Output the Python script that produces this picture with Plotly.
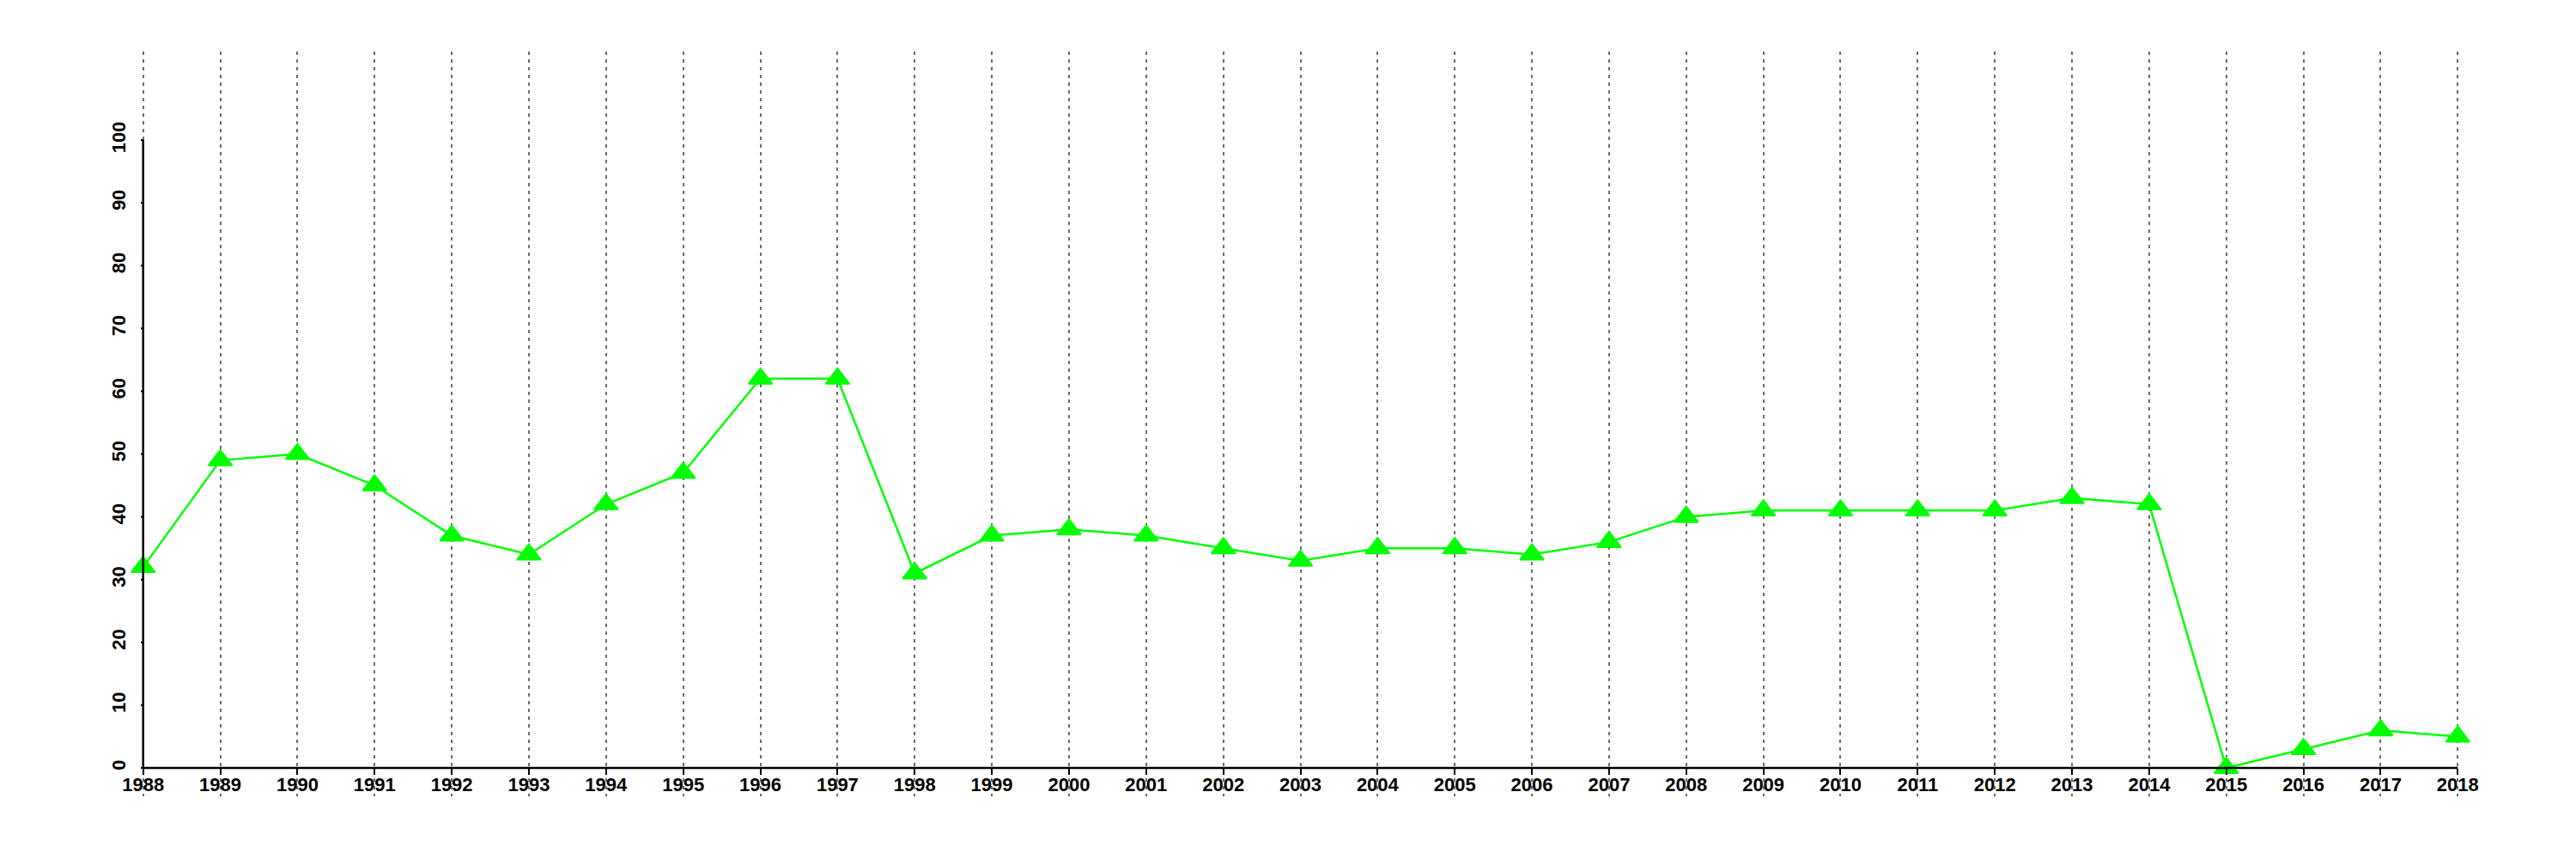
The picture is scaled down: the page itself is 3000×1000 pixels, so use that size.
import plotly.graph_objects as go

years = list(range(1988, 2019))
values = [32, 49, 50, 45, 37, 34, 42, 47, 62, 62, 31, 37, 38, 37, 35, 33, 35, 35, 34, 36,
          40, 41, 41, 41, 41, 43, 42, 0, 3, 6, 5]
y_ticks = list(range(0, 101, 10))

W, H = 3000, 1000
ml, mr, mt, mb = 167, 138, 60, 73
y_lo, y_hi = -4.51, 114.1
zero_pos = (0 - y_lo) / (y_hi - y_lo)
pad_x = 0.03

font = dict(family="Liberation Sans, Arial, sans-serif", size=22, color="black", weight="bold")

fig = go.Figure()
fig.add_trace(go.Scatter(
    x=years, y=values, mode="lines+markers",
    line=dict(color="#00FF00", width=2.5),
    marker=dict(symbol="triangle-up", size=24, color="#00FF00",
                line=dict(color="#00FF00", width=2)),
    cliponaxis=False, showlegend=False,
))

fig.update_layout(
    width=W, height=H,
    margin=dict(l=ml - 3, r=mr - 3, t=mt, b=mb, pad=0),
    paper_bgcolor="white", plot_bgcolor="white",
    font=font,
    xaxis=dict(
        range=[years[0] - pad_x, years[-1] + pad_x], tickvals=years,
        ticktext=[str(y) for y in years],
        showgrid=True, gridcolor="#6e6e6e", gridwidth=2, griddash="4px,5px",
        zeroline=False, showline=False,
        ticks="outside", ticklen=7, tickwidth=2, tickcolor="black",
        anchor="free", position=zero_pos, tickfont=font, ticklabelstandoff=-7,
    ),
    yaxis=dict(
        range=[y_lo, y_hi], tickvals=y_ticks, ticktext=[str(v) for v in y_ticks],
        showgrid=False, zeroline=False, showline=False,
        ticks="", tickfont=font, tickangle=-90, ticklabelstandoff=13,
    ),
    shapes=[
        dict(type="line", xref="x", yref="y", x0=years[0], x1=years[0], y0=0, y1=100,
             line=dict(color="black", width=2.5), layer="above"),
        dict(type="line", xref="x", yref="y", x0=years[0], x1=years[-1], y0=0, y1=0,
             line=dict(color="black", width=2.5), layer="above"),
    ] + [
        dict(type="line", xref="x", yref="y", x0=years[0] - 0.1, x1=years[0], y0=v, y1=v,
             line=dict(color="black", width=2), layer="above")
        for v in y_ticks
    ],
)

fig.write_html("out.html", post_script="document.body.style.margin='0';",
               config={"displayModeBar": False})
